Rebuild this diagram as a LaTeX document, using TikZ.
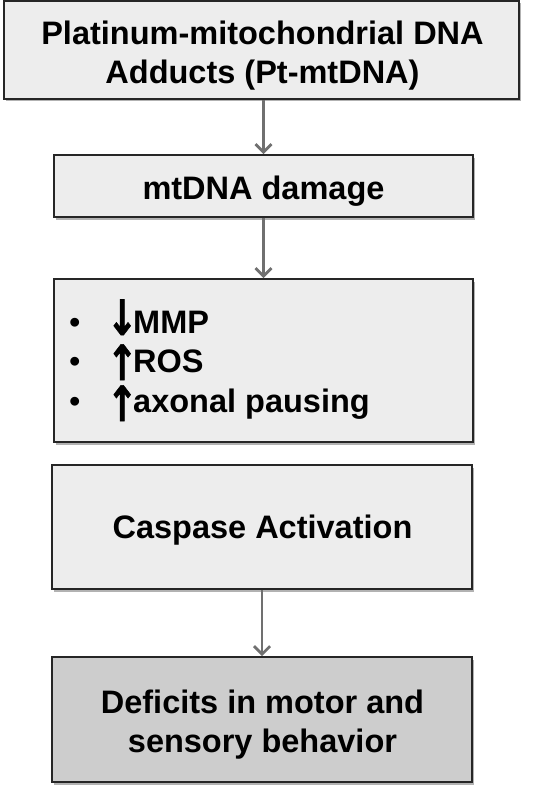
\documentclass[tikz,border=0pt]{standalone}
\usepackage{fontspec}
\setmainfont{Liberation Sans}
\newfontfamily\symfont[FakeBold=1.2]{DejaVu Sans Bold}
\usetikzlibrary{arrows.meta,shadows}
\definecolor{boxfill}{HTML}{EDEDED}
\definecolor{darkfill}{HTML}{CDCDCD}
\definecolor{arrowgray}{HTML}{707070}
\newcommand\vertarrow[2]{\makebox[22pt][c]{\raisebox{#2}[23pt][0pt]{\scalebox{1.15}[1.5]{\symfont #1}}}}
\begin{document}
\begin{tikzpicture}[x=1pt,y=-1pt,
  box/.style={draw=black!85, line width=1.6pt, fill=boxfill, inner sep=0pt,
    drop shadow={shadow xshift=1.5pt, shadow yshift=-2.5pt, opacity=0.3, fill=black}},
  txt/.style={anchor=base, inner sep=0pt, font=\fontsize{32.5}{39}\selectfont\bfseries},
  item/.style={anchor=base west, inner sep=0pt, font=\fontsize{32.5}{39}\selectfont\bfseries},
  conn/.style={draw=arrowgray, line width=2.8pt, -{Straight Barb[length=8pt,width=16pt,line width=2.8pt]}}]
\useasboundingbox (0,0) rectangle (541,789);
\node[box, minimum width=515pt, minimum height=98pt] (b1) at (261.5,50) {};
\node[box, minimum width=419pt, minimum height=62pt] (b2) at (263.5,186) {};
\node[box, minimum width=419pt, minimum height=163pt] (b3) at (263.5,360.5) {};
\node[box, minimum width=420pt, minimum height=124pt] (b4) at (262,527) {};
\node[box, fill=darkfill, minimum width=420pt, minimum height=125pt] (b5) at (262,719.5) {};
\node[txt] (t1a) at (262.5,45) {Platinum-mitochondrial DNA};
\node[txt] (t1b) at (262.5,84) {Adducts (Pt-mtDNA)};
\node[txt] (t2) at (263.5,199) {mtDNA damage};
\node[txt] (t4) at (262.5,538) {Caspase Activation};
\node[txt] (t5a) at (262.5,713) {Deficits in motor and};
\node[txt] (t5b) at (262.5,752) {sensory behavior};
\node[item] (l1) at (69,333) {\makebox[42pt][l]{\mdseries •}\vertarrow{↓}{-2pt}MMP};
\node[item] (l2) at (69,372) {\makebox[42pt][l]{\mdseries •}\vertarrow{↑}{-8pt}ROS};
\node[item] (l3) at (69,412) {\makebox[42pt][l]{\mdseries •}\vertarrow{↑}{-9pt}axonal pausing};
\draw[conn] (b1.south -| b2.north) -- (b2.north);
\draw[conn] (b2.south) -- (b3.north);
\draw[conn] (b4.south) -- (b5.north);
\end{tikzpicture}
\end{document}
